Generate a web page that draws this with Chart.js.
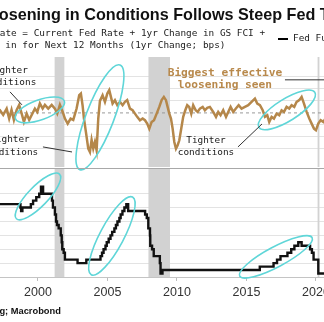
<!DOCTYPE html>
<html>
<head>
<meta charset="utf-8">
<script src="https://cdn.jsdelivr.net/npm/chart.js@4.4.0/dist/chart.umd.min.js"></script>
<style>
  html, body { margin: 0; padding: 0; background: #fff; overflow: hidden; }
  #wrap { position: relative; width: 324px; height: 322px; overflow: hidden; }
  canvas { position: absolute; left: 0; top: 0; }
  .t { position: absolute; white-space: nowrap; }
  #title { left: -21px; top: 5.5px; font: bold 16.2px/16px "Liberation Sans", Arial, sans-serif; color: #111; }
  .sub { font: 9.4px/9.4px "DejaVu Sans Mono", monospace; color: #222; }
  #s1 { left: -84.9px; top: 27.5px; }
  #s2 { left: -90.6px; top: 39.5px; }
  #legLine { position: absolute; left: 278px; top: 37.5px; width: 10px; height: 2px; background: #000; }
  #leg { left: 293px; top: 33px; }
  #src { left: -81.2px; top: 306.6px; font: bold 9.3px/9.3px "Liberation Sans", Arial, sans-serif; color: #111; }
</style>
</head>
<body>
<div id="wrap">
  <canvas id="top" width="324" height="322"></canvas>
  <canvas id="bot" width="324" height="322"></canvas>
  <div class="t" id="title">Loosening in Conditions Follows Steep Fed Tightening</div>
  <div class="t sub" id="s1">Effective Fed Rate = Current Fed Rate + 1yr Change in GS FCI +</div>
  <div class="t sub" id="s2">Fed Hikes Priced in for Next 12 Months (1yr Change; bps)</div>
  <div id="legLine"></div>
  <div class="t sub" id="leg">Fed Funds Target Rate</div>
  <div class="t" id="src">Source: Bloomberg; Macrobond</div>
</div>
<script>
// effective fed rate, 1yr change in bps
const fciYears = [1997.0, 1997.27, 1997.5, 1997.75, 1997.93, 1998.1, 1998.27, 1998.47, 1998.65, 1998.83, 1998.99,
  1999.19, 1999.37, 1999.55, 1999.78, 1999.95, 2000.14, 2000.34, 2000.5, 2000.74, 2000.99,
  2001.22, 2001.39, 2001.58, 2001.78, 2001.94, 2002.14, 2002.35, 2002.54, 2002.78, 2002.97,
  2003.09, 2003.21, 2003.31, 2003.45, 2003.62, 2003.74, 2003.86, 2003.98, 2004.1, 2004.22,
  2004.34, 2004.46, 2004.65, 2004.82, 2004.99, 2005.13, 2005.25, 2005.37, 2005.54, 2005.71,
  2005.9, 2006.09, 2006.26, 2006.42, 2006.62, 2006.81, 2006.98, 2007.14, 2007.34, 2007.53,
  2007.7, 2007.86, 2008.01, 2008.18, 2008.35, 2008.54, 2008.73, 2008.9, 2009.06, 2009.21,
  2009.33, 2009.45, 2009.57, 2009.69, 2009.81, 2009.93, 2010.05, 2010.17, 2010.29, 2010.45,
  2010.6, 2010.74, 2010.88, 2011.03, 2011.17, 2011.35, 2011.49, 2011.65, 2011.85, 2012.01,
  2012.18, 2012.37, 2012.61, 2012.81, 2012.97, 2013.14, 2013.33, 2013.53, 2013.69, 2013.86,
  2014.05, 2014.24, 2014.44, 2014.65, 2014.89, 2015.13, 2015.37, 2015.61, 2015.78, 2015.97,
  2016.17, 2016.33, 2016.5, 2016.64, 2016.81, 2016.98, 2017.17, 2017.36, 2017.53, 2017.7,
  2017.89, 2018.08, 2018.25, 2018.44, 2018.61, 2018.8, 2018.97, 2019.14, 2019.33, 2019.52,
  2019.69, 2019.86, 2020.0, 2020.17, 2020.34, 2020.53, 2020.72];
const fciBps = [10, 22, -17, 36, -47, 25, -58, 25, 67, -6, -75,
  -6, -58, -17, 36, 8, 78, 36, 67, 36, 67,
  36, -6, 67, 8, -47, -89, -47, -58, 36, 147,
  161, 64, -47, -158, -297, -325, -225, -297, -242, -311,
  -47, 100, 147, 92, 161, 189, 133, 78, 106, 64,
  92, 64, 92, 106, 36, 22, -6, -33, -61, -47,
  -61, -89, -131, -75, -61, -6, 50, 106, 133, 106,
  50, -6, -47, -131, -242, -297, -269, -228, -144, -33,
  22, 64, 50, -6, 64, 22, 8, 36, 50, 22,
  42, 50, 8, -33, 8, -19, 22, -33, 8, 50,
  8, 36, 64, 36, 50, 64, 92, 119, 78, 64,
  22, -33, -19, -75, -33, -47, -6, -19, 22, 8,
  50, 36, 64, 50, 92, 106, 133, 78, 8, -47,
  -89, -131, -144, -89, -61, -75, -40];

// fed funds target rate (%), value from each date on
const fedYears = [1997.0, 1998.74, 1998.79, 1998.88, 1999.49, 1999.65, 1999.88, 2000.09, 2000.22, 2000.37,
  2001.01, 2001.08, 2001.22, 2001.3, 2001.37, 2001.49, 2001.64, 2001.71, 2001.75, 2001.85, 2001.94,
  2002.85, 2003.48, 2004.5, 2004.61, 2004.72, 2004.86, 2004.95, 2005.09, 2005.22, 2005.34,
  2005.5, 2005.61, 2005.72, 2005.86, 2005.95, 2006.08, 2006.22, 2006.36, 2006.49,
  2007.71, 2007.83, 2007.94, 2008.06, 2008.08, 2008.21, 2008.33, 2008.77, 2008.82, 2008.96,
  2015.96, 2016.95, 2017.2, 2017.45, 2017.95, 2018.22, 2018.45, 2018.73, 2018.97,
  2019.58, 2019.71, 2019.83, 2020.17, 2020.2, 2021.0];
const fedRate = [5.5, 5.25, 5.0, 4.75, 5.0, 5.25, 5.5, 5.75, 6.0, 6.5,
  6.0, 5.5, 5.0, 4.5, 4.0, 3.75, 3.5, 3.0, 2.5, 2.0, 1.75,
  1.25, 1.0, 1.25, 1.5, 1.75, 2.0, 2.25, 2.5, 2.75, 3.0,
  3.25, 3.5, 3.75, 4.0, 4.25, 4.5, 4.75, 5.0, 5.25,
  4.75, 4.5, 4.25, 3.5, 3.0, 2.25, 2.0, 1.5, 1.0, 0.25,
  0.5, 0.75, 1.0, 1.25, 1.5, 1.75, 2.0, 2.25, 2.5,
  2.25, 2.0, 1.75, 1.25, 0.25, 0.25];

const recessions = [[2001.2, 2001.9], [2007.95, 2009.5], [2020.12, 2020.25]];
const yearTicks = [2000, 2005, 2010, 2015, 2020];

const xMin = 1997.27, xMax = 2020.58;

// circled areas and notes, in data units
const rings = [
  { panel: 'top', x: 2000.14, y: 25, rx: 26, ry: 10, rot: -20 },
  { panel: 'top', x: 2004.46, y: -37, rx: 56, ry: 14, rot: -69 },
  { panel: 'top', x: 2017.91, y: 25, rx: 33, ry: 11, rot: -32 },
  { panel: 'bot', x: 2000.0, y: 5.8, rx: 31, ry: 10, rot: -46 },
  { panel: 'bot', x: 2005.32, y: 2.96, rx: 44, ry: 12, rot: -62 },
  { panel: 'bot', x: 2017.12, y: 1.45, rx: 41, ry: 10, rot: -28 }
];
const notes = [
  { x: 1997.85, y: 304, lines: ['Tighter', 'conditions'], from: [1997.99, 175], to: [1998.85, 67] },
  { x: 1997.99, y: -275, lines: ['Tighter', 'conditions'], from: [2000.36, -283], to: [2002.45, -325] },
  { x: 2012.09, y: -279, lines: ['Tighter', 'conditions'], from: [2014.39, -283], to: [2016.12, -92] },
  { x: 2013.45, y: 283, lines: ['Biggest effective', 'loosening seen'], color: '#b8894c', bold: true,
    from: [2017.77, 275], to: [2021, 275] }
];

function pts(xs, ys) {
  return xs.map(function (x, i) { return { x: x, y: ys[i] }; });
}

function panelPlugin(panel) {
  return {
    id: 'extras_' + panel,
    beforeDatasetsDraw(chart) {
      const ctx = chart.ctx, a = chart.chartArea, x = chart.scales.x, y = chart.scales.y;
      ctx.save();
      ctx.fillStyle = '#d2d2d2';
      recessions.forEach(function (r) {
        const x0 = x.getPixelForValue(r[0]), x1 = x.getPixelForValue(r[1]);
        ctx.fillRect(x0, a.top, x1 - x0, a.bottom - a.top);
      });
      if (panel == 'top') {
        const y0 = y.getPixelForValue(0);
        ctx.strokeStyle = '#9a9a9a';
        ctx.lineWidth = 1;
        ctx.setLineDash([3, 3]);
        ctx.beginPath();
        ctx.moveTo(a.left, y0);
        ctx.lineTo(a.right, y0);
        ctx.stroke();
        ctx.setLineDash([]);
      } else {
        ctx.strokeStyle = '#a8a8a8';
        ctx.lineWidth = 1;
        ctx.beginPath();
        ctx.moveTo(a.left, a.top + 0.5);
        ctx.lineTo(a.right, a.top + 0.5);
        ctx.stroke();
      }
      ctx.restore();
    },
    afterDatasetsDraw(chart) {
      const ctx = chart.ctx, x = chart.scales.x, y = chart.scales.y;
      ctx.save();
      ctx.strokeStyle = '#5fd6d8';
      ctx.lineWidth = 1.6;
      rings.filter(function (r) { return r.panel == panel; }).forEach(function (r) {
        ctx.beginPath();
        ctx.ellipse(x.getPixelForValue(r.x), y.getPixelForValue(r.y), r.rx, r.ry, r.rot * Math.PI / 180, 0, Math.PI * 2);
        ctx.stroke();
      });
      if (panel == 'top') {
        notes.forEach(function (n) {
          ctx.strokeStyle = '#333';
          ctx.lineWidth = 1;
          ctx.beginPath();
          ctx.moveTo(x.getPixelForValue(n.from[0]), y.getPixelForValue(n.from[1]));
          ctx.lineTo(x.getPixelForValue(n.to[0]), y.getPixelForValue(n.to[1]));
          ctx.stroke();
          ctx.fillStyle = n.color || '#1a1a1a';
          ctx.font = n.bold ? 'bold 11.2px "DejaVu Sans Mono"' : '9.4px "DejaVu Sans Mono"';
          ctx.textAlign = 'center';
          ctx.textBaseline = 'middle';
          const cx = x.getPixelForValue(n.x), cy = y.getPixelForValue(n.y);
          const gap = n.bold ? 12 : 12.5;
          n.lines.forEach(function (s, i) {
            ctx.fillText(s, cx, cy + (i - (n.lines.length - 1) / 2) * gap);
          });
        });
      }
      ctx.restore();
    }
  };
}

// upper panel: effective fed rate change
new Chart(document.getElementById('top').getContext('2d'), {
  type: 'line',
  data: {
    datasets: [{
      data: pts(fciYears, fciBps),
      borderColor: '#b5874a',
      borderWidth: 2.5,
      pointRadius: 0,
      tension: 0
    }]
  },
  options: {
    responsive: false,
    animation: false,
    devicePixelRatio: 1,
    layout: { autoPadding: false, padding: { top: 57, bottom: 155, left: 0, right: 0 } },
    plugins: { legend: { display: false }, tooltip: { enabled: false } },
    scales: {
      x: { type: 'linear', min: xMin, max: xMax, display: false },
      y: {
        min: -450, max: 465,
        ticks: { display: false, stepSize: 100 },
        afterBuildTicks: function (s) { s.ticks = s.ticks.filter(function (t) { return t.value % 100 === 0; }); },
        grid: { drawTicks: false, color: function (c) { return c.tick && c.tick.value === 0 ? 'rgba(0,0,0,0)' : '#e3e3e3'; } },
        border: { display: false }
      }
    }
  },
  plugins: [panelPlugin('top')]
});

// lower panel: fed funds target
new Chart(document.getElementById('bot').getContext('2d'), {
  type: 'line',
  data: {
    datasets: [{
      data: pts(fedYears, fedRate),
      stepped: 'after',
      borderColor: '#111',
      borderWidth: 2.4,
      pointRadius: 0
    }]
  },
  options: {
    responsive: false,
    animation: false,
    devicePixelRatio: 1,
    layout: { autoPadding: false, padding: { top: 168, bottom: 19, left: 0, right: 0 } },
    plugins: { legend: { display: false }, tooltip: { enabled: false } },
    scales: {
      x: {
        type: 'linear', min: xMin, max: xMax,
        afterBuildTicks: function (s) { s.ticks = yearTicks.map(function (v) { return { value: v }; }); },
        afterFit: function (s) { s.height = 26; s.paddingLeft = 0; s.paddingRight = 0; },
        grid: { drawOnChartArea: false, drawTicks: true, tickLength: 4, color: '#bdbdbd' },
        border: { color: '#c4c4c4' },
        ticks: {
          autoSkip: false, maxRotation: 0, padding: 4, color: '#333',
          font: { family: 'Liberation Sans', size: 12.5 },
          callback: function (v) { return String(v); }
        }
      },
      y: {
        min: 0, max: 7.85,
        ticks: { display: false, stepSize: 1 },
        afterBuildTicks: function (s) { s.ticks = s.ticks.filter(function (t) { return Number.isInteger(t.value) && t.value > 0; }); },
        grid: { drawTicks: false, color: '#e3e3e3' },
        border: { display: false }
      }
    }
  },
  plugins: [panelPlugin('bot')]
});
</script>
</body>
</html>
